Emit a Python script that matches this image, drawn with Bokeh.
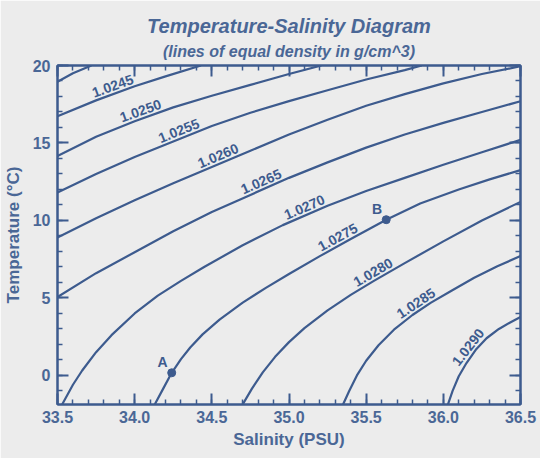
import math
import numpy as np
from bokeh.plotting import figure
from bokeh.models import (Range1d, LinearAxis, SingleIntervalTicker, NumeralTickFormatter,
                          CustomJSTickFormatter, Title, ColumnDataSource)
from bokeh.core.properties import value
from bokeh.embed import file_html
from bokeh.resources import INLINE

# ---------------- data ----------------
# isopycnals (salinity PSU, temperature degC)
s_0240 = [33.50, 33.60, 33.72]
t_0240 = [18.95, 19.50, 20.00]

s_0245 = [33.50, 33.75, 34.00, 34.20, 34.43]
t_0245 = [16.72, 17.75, 18.66, 19.30, 20.00]

s_0250 = [33.50, 33.75, 34.00, 34.25, 34.50, 34.75, 35.00, 35.21]
t_0250 = [14.16, 15.40, 16.40, 17.30, 18.05, 18.75, 19.45, 20.00]

s_0255 = [33.50, 33.75, 34.00, 34.25, 34.50, 34.75, 35.00, 35.25, 35.50, 35.75, 35.86]
t_0255 = [11.81, 13.00, 14.10, 15.10, 16.10, 16.95, 17.70, 18.40, 19.10, 19.70, 20.00]

s_0260 = [33.50, 33.75, 34.00, 34.25, 34.50, 34.75, 35.00, 35.25, 35.50, 35.75, 36.00, 36.25, 36.50]
t_0260 = [8.90, 10.15, 11.30, 12.40, 13.45, 14.50, 15.55, 16.50, 17.40, 18.15, 18.85, 19.45, 19.95]

s_0265 = [33.50, 33.75, 34.00, 34.25, 34.50, 34.75, 35.00, 35.25, 35.50, 35.75, 36.00, 36.25, 36.50]
t_0265 = [5.06, 6.60, 7.95, 9.30, 10.55, 11.65, 12.75, 13.75, 14.70, 15.55, 16.30, 17.00, 17.69]

s_0270 = [33.53, 33.60, 33.66, 33.75, 33.85, 34.00, 34.15, 34.30, 34.45, 34.70, 34.96, 35.25, 35.50, 35.75, 36.00, 36.25, 36.50]
t_0270 = [-1.87, -0.60, 0.32, 1.50, 2.60, 4.00, 5.15, 6.10, 7.00, 8.40, 9.70, 10.95, 11.90, 12.75, 13.60, 14.40, 15.20]

s_0275 = [34.13, 34.185, 34.24, 34.30, 34.36, 34.44, 34.55, 34.70, 34.85, 35.00, 35.20, 35.40, 35.63, 35.85, 36.10, 36.30, 36.50]
t_0275 = [-1.87, -0.85, 0.17, 1.05, 1.80, 2.65, 3.60, 4.70, 5.65, 6.55, 7.70, 8.80, 10.05, 11.10, 12.00, 12.65, 13.25]

s_0280 = [34.70, 34.76, 34.83, 34.91, 35.00, 35.10, 35.25, 35.40, 35.55, 35.75, 36.00, 36.25, 36.50]
t_0280 = [-1.87, -0.85, 0.20, 1.20, 2.15, 3.05, 4.20, 5.20, 6.10, 7.25, 8.65, 10.00, 11.20]

s_0285 = [35.35, 35.39, 35.44, 35.50, 35.58, 35.68, 35.80, 35.92, 36.05, 36.20, 36.35, 36.50]
t_0285 = [-1.87, -1.00, 0.00, 0.95, 1.95, 2.95, 3.90, 4.70, 5.45, 6.30, 7.05, 7.70]

s_0290 = [36.03, 36.06, 36.10, 36.15, 36.21, 36.28, 36.36, 36.43, 36.50]
t_0290 = [-1.87, -1.00, -0.05, 0.80, 1.65, 2.40, 3.00, 3.40, 3.77]

line_levels = ["1.0240", "1.0245", "1.0250", "1.0255", "1.0260", "1.0265",
               "1.0270", "1.0275", "1.0280", "1.0285", "1.0290"]

# contour labels: text and salinity where each sits on its line
label_text = ["1.0245", "1.0250", "1.0255", "1.0260", "1.0265",
              "1.0270", "1.0275", "1.0280", "1.0285", "1.0290"]
label_sal = [33.875, 34.055, 34.305, 34.56, 34.84, 35.12, 35.34, 35.57, 35.85, 36.20]

# marked water samples
point_names = ["A", "B"]
point_sal = [34.24, 35.63]
point_temp = [0.17, 10.05]

title_text = "Temperature-Salinity Diagram"
subtitle_text = "(lines of equal density in g/cm^3)"
x_label_text = "Salinity (PSU)"
y_label_text = "Temperature (°C)"

x_ticks_interval = 0.5
y_ticks_interval = 5

# ---------------- style ----------------
BG = "#ececec"
BLUE = "#3d5b8e"
TEXT = "#4a6796"
FONT = "Liberation Sans"

W, H = 540, 458
BL, BR, BT, BB = 52, 20, 65, 54
FRAME_W, FRAME_H = W - BL - BR, H - BT - BB
XMIN, XMAX, YMIN, YMAX = 33.5, 36.5, -1.875, 20.0

p = figure(width=W, height=H,
           x_range=Range1d(XMIN, XMAX), y_range=Range1d(YMIN, YMAX),
           x_axis_type=None, y_axis_type=None, title=None,
           output_backend="svg", toolbar_location=None,
           min_border_left=BL, min_border_right=BR, min_border_top=BT, min_border_bottom=BB,
           background_fill_color=BG, border_fill_color=BG,
           outline_line_color=BLUE, outline_line_width=2)


def make_axis(interval, fmt, show_labels, axis_label=None, label_standoff=6, title_standoff=3):
    if show_labels:
        formatter = NumeralTickFormatter(format=fmt)
    else:
        formatter = CustomJSTickFormatter(code="return ''")
    ax = LinearAxis(ticker=SingleIntervalTicker(interval=interval, num_minor_ticks=5),
                    formatter=formatter)
    ax.major_tick_in = 11
    ax.major_tick_out = 0
    ax.minor_tick_in = 5
    ax.minor_tick_out = 0
    ax.major_tick_line_color = BLUE
    ax.major_tick_line_width = 2
    ax.minor_tick_line_color = BLUE
    ax.minor_tick_line_width = 1.5
    ax.axis_line_color = BLUE
    ax.axis_line_width = 2
    ax.major_label_text_font = FONT
    ax.major_label_text_font_style = "bold"
    ax.major_label_text_color = TEXT
    if show_labels:
        ax.major_label_text_font_size = "16px"
        ax.major_label_standoff = label_standoff
    else:
        ax.major_label_text_font_size = "2px"
        ax.major_label_standoff = 0
    if axis_label:
        ax.axis_label = axis_label
        ax.axis_label_text_font = FONT
        ax.axis_label_text_font_size = "17px"
        ax.axis_label_text_font_style = "bold"
        ax.axis_label_text_color = TEXT
        ax.axis_label_standoff = title_standoff
    return ax


p.add_layout(make_axis(x_ticks_interval, "0.0", True, x_label_text, 6, 4), "below")
p.add_layout(make_axis(y_ticks_interval, "0", True, y_label_text, 7, 7), "left")
p.add_layout(make_axis(x_ticks_interval, "0.0", False), "above")
p.add_layout(make_axis(y_ticks_interval, "0", False), "right")

p.add_layout(Title(text=subtitle_text, align="center",
                   text_font=FONT, text_font_size="16px", text_font_style="bold italic",
                   text_color=TEXT, standoff=12, offset=0), "above")
p.add_layout(Title(text=title_text, align="center",
                   text_font=FONT, text_font_size="20px", text_font_style="bold italic",
                   text_color=TEXT, standoff=-4, offset=0), "above")

# ---------------- isopycnal lines ----------------
sal_lines = [s_0240, s_0245, s_0250, s_0255, s_0260, s_0265, s_0270, s_0275, s_0280, s_0285, s_0290]
temp_lines = [t_0240, t_0245, t_0250, t_0255, t_0260, t_0265, t_0270, t_0275, t_0280, t_0285, t_0290]
p.multi_line(xs=sal_lines, ys=temp_lines, line_color=BLUE, line_width=2.2,
             line_join="round")

# ---------------- contour labels ----------------
px_per_s = FRAME_W / (XMAX - XMIN)
px_per_t = FRAME_H / (YMAX - YMIN)
lx, ly, la, lxo, lyo = [], [], [], [], []
for txt, s in zip(label_text, label_sal):
    i = line_levels.index(txt)
    xs_, ys_ = np.array(sal_lines[i]), np.array(temp_lines[i])
    t = float(np.interp(s, xs_, ys_))
    d = 0.04
    slope = (np.interp(s + d, xs_, ys_) - np.interp(s - d, xs_, ys_)) / (2 * d)
    ang = math.atan(slope * px_per_t / px_per_s)
    lx.append(s)
    ly.append(t)
    la.append(ang)
    lxo.append(-3 * math.sin(ang))
    lyo.append(-3 * math.cos(ang))

src = ColumnDataSource(dict(x=lx, y=ly, text=label_text, angle=la, xo=lxo, yo=lyo))
p.text(x="x", y="y", text="text", angle="angle", x_offset="xo", y_offset="yo", source=src,
       text_align="center", text_baseline="bottom", text_color=BLUE,
       text_font=value(FONT), text_font_size="14px", text_font_style="bold")

# ---------------- points A and B ----------------
p.scatter(point_sal, point_temp, size=8, color=BLUE)
p.text(x=point_sal, y=point_temp, text=point_names, x_offset=-4, y_offset=-3,
       text_align="right", text_baseline="bottom", text_color=BLUE,
       text_font=value(FONT), text_font_size="14px", text_font_style="bold")

open("out.html", "w").write(file_html(p, INLINE))
